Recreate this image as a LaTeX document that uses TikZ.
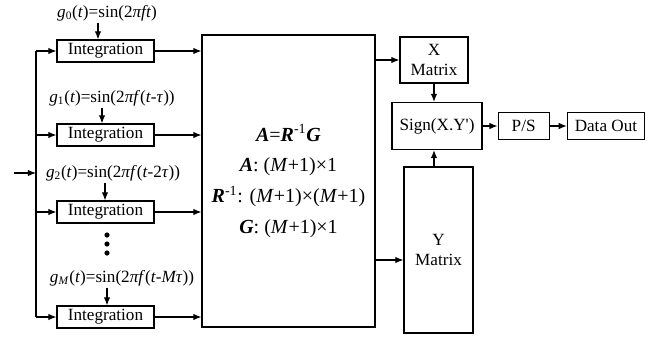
\documentclass[tikz,border=0pt,12pt]{standalone}
\usepackage{fontspec}
\setmainfont{Liberation Serif}
\usetikzlibrary{arrows.meta,positioning}
\newcommand{\pxu}{0.7pt}

\begin{document}
\begin{tikzpicture}[
x=\pxu, y=-\pxu,
box/.style={draw, line width=0.8pt, inner sep=1pt, align=center},
intbox/.style={box, minimum width=97*\pxu, minimum height=22*\pxu},
arrow/.style={-{Latex[length=2mm, width=1.6mm]}, line width=0.8pt},
glabel/.style={inner sep=1pt}
]
\useasboundingbox (0,0) rectangle (654,337);

% integration branches
\node[glabel] (g0) at (107,13) {\textit{g}\textsubscript{0}(\textit{t})=sin(2\textit{πft})};
\node[intbox] (i0) at (105.5,51) {Integration};
\node[glabel] (g1) at (112,98) {\textit{g}\textsubscript{1}(\textit{t})=sin(2\textit{πf}(\textit{t}-\textit{τ}))};
\node[intbox] (i1) at (105.5,135) {Integration};
\node[glabel] (g2) at (113,173) {\textit{g}\textsubscript{2}(\textit{t})=sin(2\textit{πf}(\textit{t}-2\textit{τ}))};
\node[intbox] (i2) at (105.5,212) {Integration};
\node[glabel] (gM) at (122,278) {\textit{g}\textsubscript{\textit{M}}(\textit{t})=sin(2\textit{πf}(\textit{t}-\textit{Mτ}))};
\node[intbox] (iM) at (105.5,317) {Integration};

\foreach \y in {235,244,253} \fill (107,\y) circle[radius=2.6];

% main computation block
\node[box, minimum width=173*\pxu, minimum height=292*\pxu,
  font=\fontsize{14}{17}\selectfont] (calc) at (288.5,181)
  {\textbf{\textit{A}}=\textbf{\textit{R}}\textsuperscript{-1}\textbf{\textit{G}}\\[4.5pt]
   \textbf{\textit{A}}: (\textit{M}+1)×1\\[4.5pt]
   \textbf{\textit{R}}\textsuperscript{-1}: (\textit{M}+1)×(\textit{M}+1)\\[4.5pt]
   \textbf{\textit{G}}: (\textit{M}+1)×1};

% right side
\node[box, minimum width=68*\pxu, minimum height=46*\pxu] (xm) at (434,60) {X\\Matrix};
\node[box, minimum width=90*\pxu, minimum height=47*\pxu] (sgn) at (437,126) {Sign(X.Y\textquotesingle)};
\node[box, minimum width=69*\pxu, minimum height=166*\pxu] (ym) at (438.5,250) {Y\\Matrix};
\node[box, minimum width=51*\pxu, minimum height=27*\pxu, right=10.5pt of sgn] (ps) {P/S};
\node[box, minimum width=77*\pxu, minimum height=27*\pxu, right=12pt of ps] (out) {Data Out};

\coordinate (in) at (14,173);
\coordinate (bus) at (36,0);
\coordinate (t0) at (98,0);
\coordinate (t1) at (102,0);
\coordinate (t2) at (105,0);
\coordinate (tM) at (107,0);
\coordinate (yrow) at (0,260);

\draw[arrow] (in) -- (in -| bus);
\draw[line width=0.8pt] (i0.west -| bus) -- (iM.west -| bus);
\foreach \n in {i0,i1,i2,iM} {
  \draw[arrow] (\n.west -| bus) -- (\n.west);
  \draw[arrow] (\n.east) -- (\n.east -| calc.west);
}
\draw[arrow] (g0.south -| t0) -- (t0 |- i0.north);
\draw[arrow] (g1.south -| t1) -- (t1 |- i1.north);
\draw[arrow] (g2.south -| t2) -- (t2 |- i2.north);
\draw[arrow] (gM.south -| tM) -- (tM |- iM.north);

\draw[arrow] (xm.west -| calc.east) -- (xm.west);
\draw[arrow] (calc.east |- yrow) -- (ym.west |- yrow);
\draw[arrow] (xm.south) -- (xm.south |- sgn.north);
\draw[arrow] (xm.south |- ym.north) -- (xm.south |- sgn.south);
\draw[arrow] (sgn) -- (ps);
\draw[arrow] (ps) -- (out);
\end{tikzpicture}
\end{document}
